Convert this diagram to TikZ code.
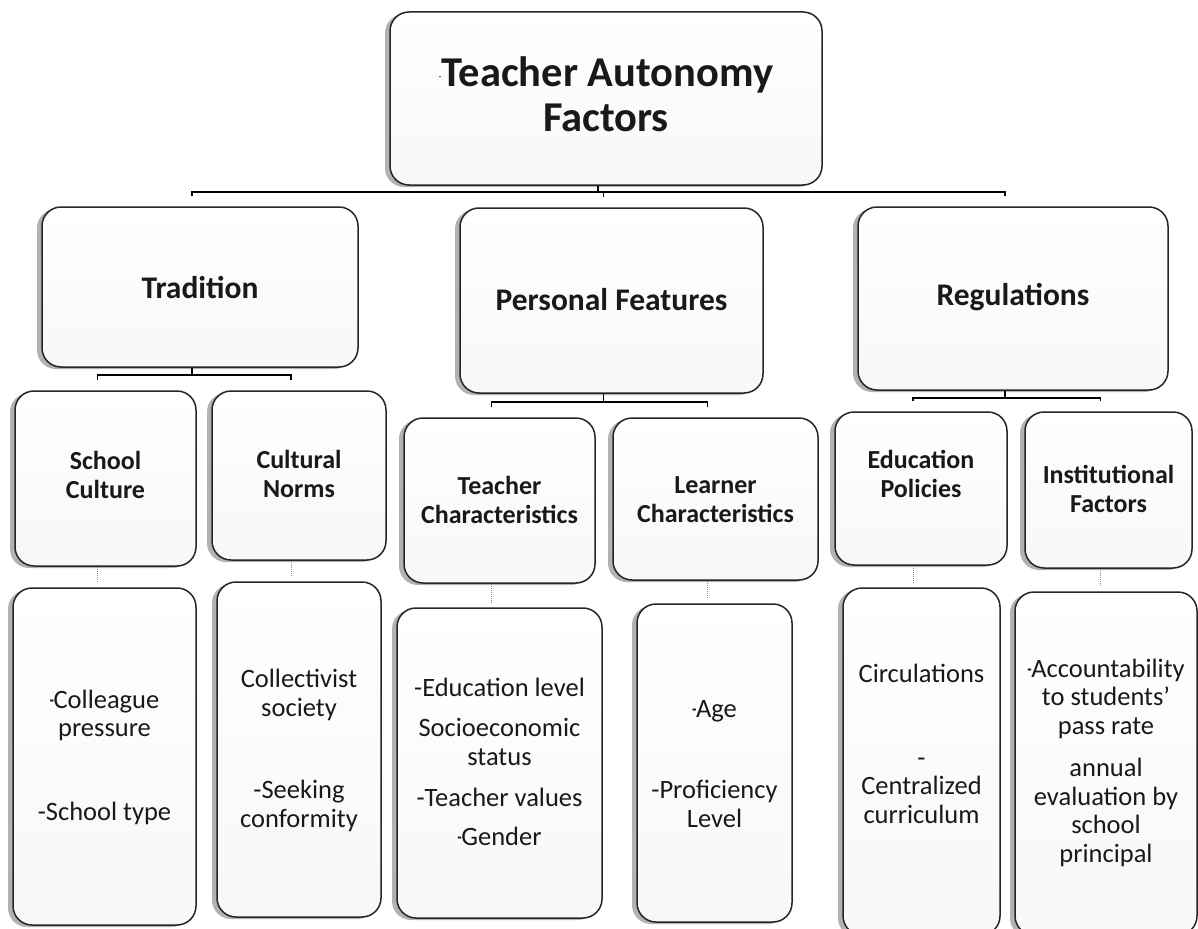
\documentclass[tikz,border=0pt]{standalone}
\usepackage{fontspec}
\usepackage{graphicx}
\setmainfont{Carlito}
\usetikzlibrary{shadows}
\newcommand{\sdash}{\scalebox{0.55}[1]{-}\kern-0.5pt}
\tikzset{
  box/.style={draw=black!85, line width=1.5pt, rounded corners=19pt,
    top color=white, bottom color=black!3,
    general shadow={shadow xshift=-5pt, shadow yshift=-2pt, fill=black!30},
    inner sep=0pt},
  txt/.style={anchor=base, align=center, inner sep=0pt, text=black!90},
  tone/.style={txt, font=\fontsize{42.5}{45}\selectfont\bfseries},
  ttwo/.style={txt, font=\fontsize{31.5}{36}\selectfont\bfseries},
  tthree/.style={txt, font=\fontsize{26}{29}\selectfont\bfseries},
  tfour/.style={txt, font=\fontsize{26.5}{28.5}\selectfont},
  conn/.style={draw=black, line width=1.4pt},
  dconn/.style={draw=black!45, line width=1pt, densely dotted},
}
\begin{document}
\begin{tikzpicture}[x=1pt,y=-1pt]
\useasboundingbox (0,0) rectangle (1198,928);
\fill[white] (0,0) rectangle (1198,928);
\clip (0,0) rectangle (1198,928);

% boxes
\node[box, minimum width=432, minimum height=173] (top) at (606,98.5) {};
\node[box, minimum width=316, minimum height=160] (tr) at (200,287) {};
\node[box, minimum width=303, minimum height=185] (pf) at (611.5,300.5) {};
\node[box, minimum width=310, minimum height=183] (rg) at (1013,298.5) {};
\node[box, minimum width=181, minimum height=175] (sc) at (105.5,478.5) {};
\node[box, minimum width=174, minimum height=169] (cn) at (299,475.5) {};
\node[box, minimum width=191, minimum height=165] (tc) at (499.5,500.5) {};
\node[box, minimum width=205, minimum height=162] (lc) at (715.5,499) {};
\node[box, minimum width=172, minimum height=153] (ep) at (921,488.5) {};
\node[box, minimum width=167, minimum height=156] (if) at (1108.5,490) {};
\node[box, minimum width=183, minimum height=337] (scd) at (104.5,756.5) {};
\node[box, minimum width=164, minimum height=335] (cnd) at (299,749.5) {};
\node[box, minimum width=205, minimum height=310] (tcd) at (499.5,763) {};
\node[box, minimum width=155, minimum height=318] (lcd) at (714.5,763) {};
\node[box, minimum width=157, minimum height=347] (epd) at (921.5,761.5) {};
\node[box, minimum width=182, minimum height=343] (ifd) at (1106,763.5) {};

% texts (anchor = baseline of last line)
\node[tone] (topt) at (606,132) {{\fontsize{8}{8}\selectfont\raisebox{7pt}{-}}Teacher Autonomy\\Factors};
\node[ttwo] (trt) at (200,298) {Tradition};
\node[ttwo] (pft) at (611.5,310) {Personal Features};
\node[ttwo] (rgt) at (1013,305) {Regulations};
\node[tthree] (sct) at (105.5,498) {School\\Culture};
\node[tthree] (cnt) at (299,497) {Cultural\\Norms};
\node[tthree] (tct) at (499.5,523) {Teacher\\Characteristics};
\node[tthree] (lct) at (715.5,522) {Learner\\Characteristics};
\node[tthree] (ept) at (921,497) {Education\\Policies};
\node[tthree] (ift) at (1108.5,512) {Institutional\\Factors};
\node[tfour] (scdt) at (104.5,820) {\sdash Colleague\\pressure\\[55pt]-School type};
\node[tfour] (cndt) at (299,827) {Collectivist\\society\\[54pt]-Seeking\\conformity};
\node[tfour] (tcdt) at (499.5,845) {-Education level\\[12pt]Socioeconomic\\status\\[13pt]-Teacher values\\[10pt]\sdash Gender};
\node[tfour] (lcdt) at (714.5,827) {\sdash Age\\[53pt]-Proficiency\\Level};
\node[tfour] (epdt) at (921.5,823) {Circulations\\[55pt]-\\Centralized\\curriculum};
\node[tfour] (ifdt) at (1106,862) {\sdash Accountability\\to students'\\pass rate\\[14pt]annual\\evaluation by\\school\\principal};

% connectors level 1
\coordinate (j1) at (598,192);
\coordinate (trT) at ([xshift=-8pt,yshift=10pt]tr.north);
\coordinate (pfT) at ([xshift=-8pt,yshift=10pt]pf.north);
\coordinate (rgT) at ([xshift=-8pt,yshift=10pt]rg.north);
\draw[conn] ([xshift=-8pt]top.south) -- (j1);
\draw[conn] (trT) |- (j1) -| (rgT);
\draw[conn] (pfT |- j1) -- (pfT);

% connectors level 2
\coordinate (j2) at (192,375);
\coordinate (scT) at ([xshift=-8pt,yshift=10pt]sc.north);
\coordinate (cnT) at ([xshift=-8pt,yshift=10pt]cn.north);
\draw[conn] ([xshift=-8pt]tr.south) -- (j2);
\draw[conn] (scT) |- (j2) -| (cnT);

\coordinate (j3) at (603.5,402);
\coordinate (tcT) at ([xshift=-8pt,yshift=10pt]tc.north);
\coordinate (lcT) at ([xshift=-8pt,yshift=10pt]lc.north);
\draw[conn] ([xshift=-8pt]pf.south) -- (j3);
\draw[conn] (tcT) |- (j3) -| (lcT);

\coordinate (j4) at (1005,398);
\coordinate (epT) at ([xshift=-8pt,yshift=10pt]ep.north);
\coordinate (ifT) at ([xshift=-8pt,yshift=10pt]if.north);
\draw[conn] ([xshift=-8pt]rg.south) -- (j4);
\draw[conn] (epT) |- (j4) -| (ifT);

% connectors level 3
\draw[dconn] ([xshift=-8pt]sc.south) -- ([xshift=-8pt,yshift=5pt]sc.south |- scd.north);
\draw[dconn] ([xshift=-8pt]cn.south) -- ([xshift=-8pt,yshift=5pt]cn.south |- cnd.north);
\draw[dconn] ([xshift=-8pt]tc.south) -- ([xshift=-8pt,yshift=5pt]tc.south |- tcd.north);
\draw[dconn] ([xshift=-8pt]lc.south) -- ([xshift=-8pt,yshift=5pt]lc.south |- lcd.north);
\draw[dconn] ([xshift=-8pt]ep.south) -- ([xshift=-8pt,yshift=5pt]ep.south |- epd.north);
\draw[dconn] ([xshift=-8pt]if.south) -- ([xshift=-8pt,yshift=5pt]if.south |- ifd.north);
\end{tikzpicture}
\end{document}
